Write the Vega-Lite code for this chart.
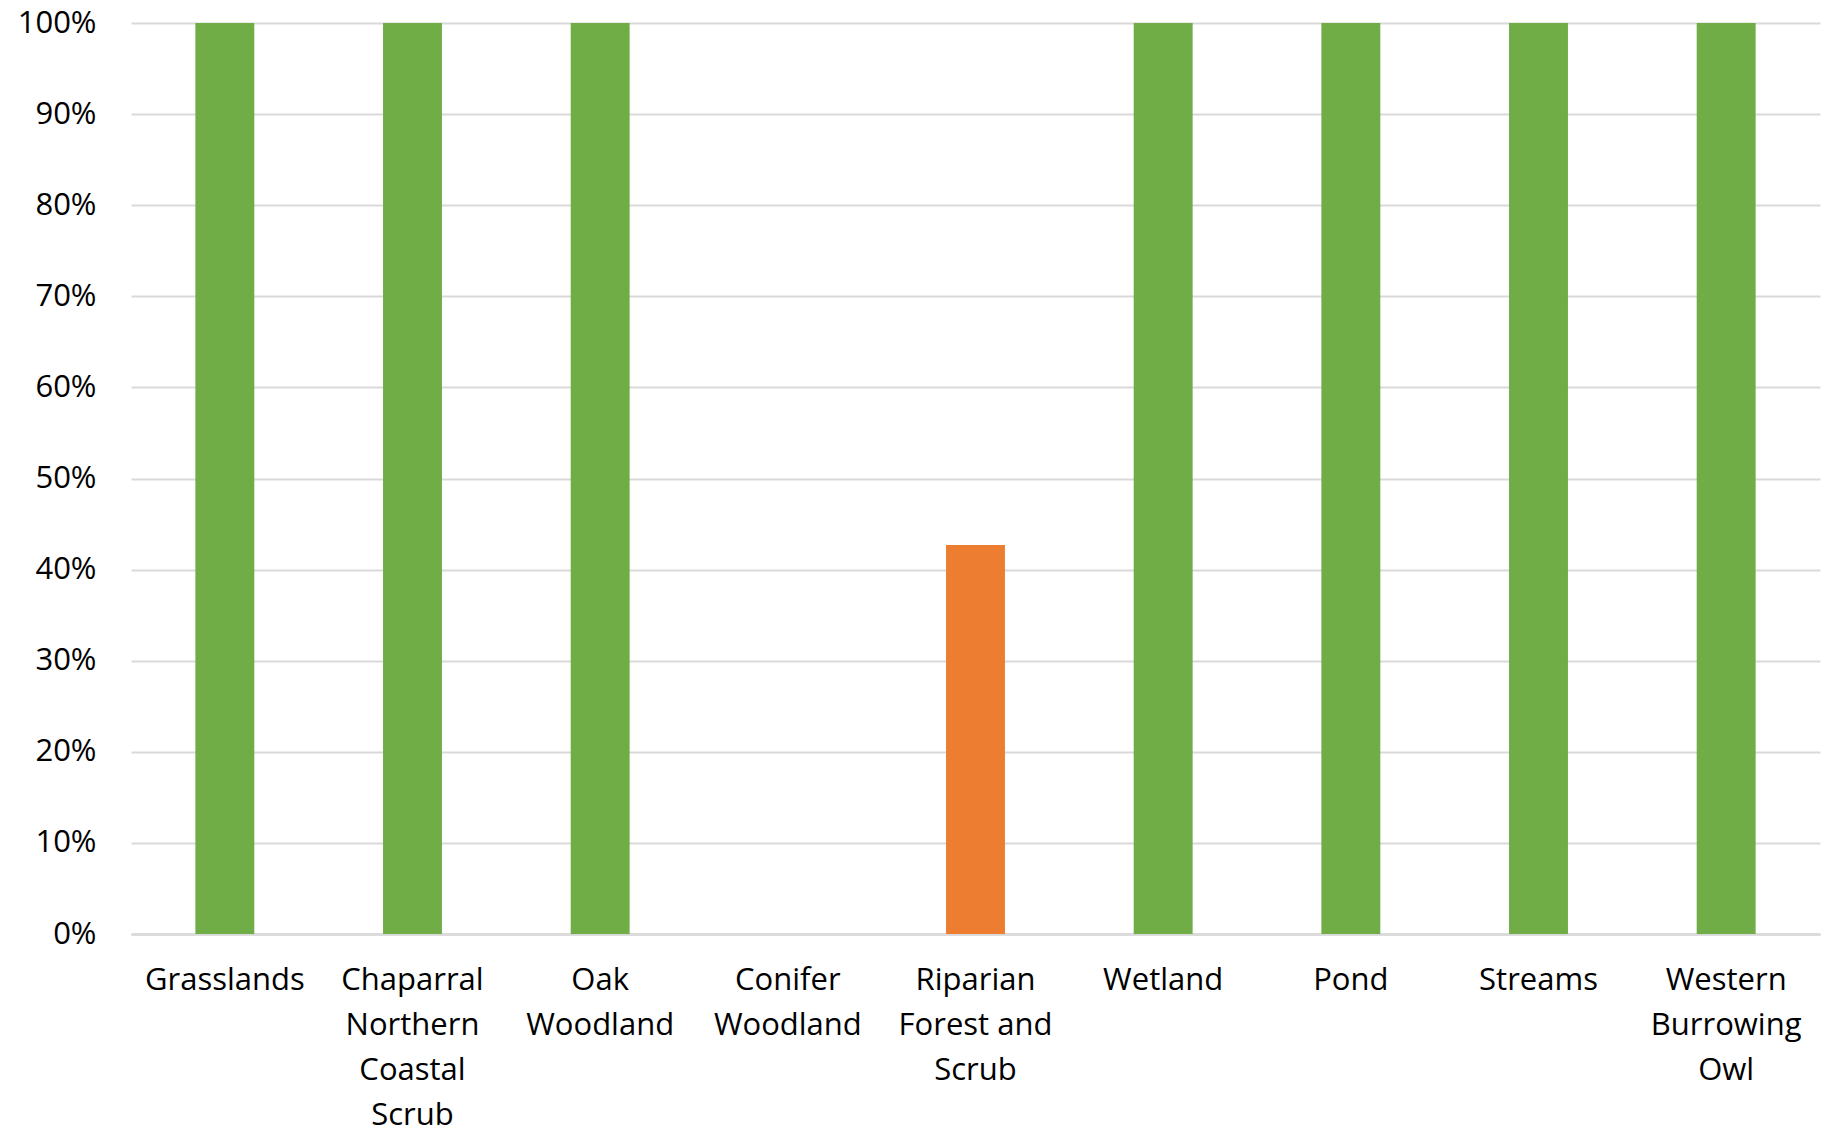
{
  "$schema": "https://vega.github.io/schema/vega-lite/v6.json",
  "width": 1689,
  "height": 911,
  "autosize": {"type": "none"},
  "padding": {"left": 131, "top": 23, "right": 9, "bottom": 202},
  "background": "white",
  "data": {
    "values": [
      {"habitat": "Grasslands", "share": 1.0, "status": "full"},
      {"habitat": "Chaparral Northern Coastal Scrub", "share": 1.0, "status": "full"},
      {"habitat": "Oak Woodland", "share": 1.0, "status": "full"},
      {"habitat": "Conifer Woodland", "share": 0.0, "status": "full"},
      {"habitat": "Riparian Forest and Scrub", "share": 0.427, "status": "partial"},
      {"habitat": "Wetland", "share": 1.0, "status": "full"},
      {"habitat": "Pond", "share": 1.0, "status": "full"},
      {"habitat": "Streams", "share": 1.0, "status": "full"},
      {"habitat": "Western Burrowing Owl", "share": 1.0, "status": "full"}
    ]
  },
  "mark": {"type": "bar"},
  "encoding": {
    "x": {
      "field": "habitat",
      "type": "nominal",
      "sort": null,
      "scale": {"paddingInner": 0.686, "paddingOuter": 0.343},
      "axis": {
        "title": null,
        "labelAngle": 0,
        "labelFont": "Open Sans",
        "labelFontSize": 31,
        "labelColor": "#000000",
        "labelLineHeight": 45,
        "labelPadding": 31,
        "labelBaseline": "top",
        "labelExpr": "datum.value == 'Riparian Forest and Scrub' ? ['Riparian', 'Forest and', 'Scrub'] : split(datum.value, ' ')",
        "ticks": false,
        "domain": true,
        "domainColor": "#d9d9d9",
        "domainWidth": 2.5,
        "grid": false
      }
    },
    "y": {
      "field": "share",
      "type": "quantitative",
      "scale": {"domain": [0, 1]},
      "axis": {
        "title": null,
        "format": ".0%",
        "values": [0, 0.1, 0.2, 0.3, 0.4, 0.5, 0.6, 0.7, 0.8, 0.9, 1.0],
        "labelFont": "Open Sans",
        "labelFontSize": 31,
        "labelColor": "#000000",
        "labelPadding": 35,
        "ticks": false,
        "domain": false,
        "grid": true,
        "gridColor": "#d9d9d9",
        "gridWidth": 2
      }
    },
    "color": {
      "field": "status",
      "type": "nominal",
      "scale": {"domain": ["full", "partial"], "range": ["#70AD47", "#ED7D31"]},
      "legend": null
    }
  },
  "config": {"view": {"stroke": null}}
}
